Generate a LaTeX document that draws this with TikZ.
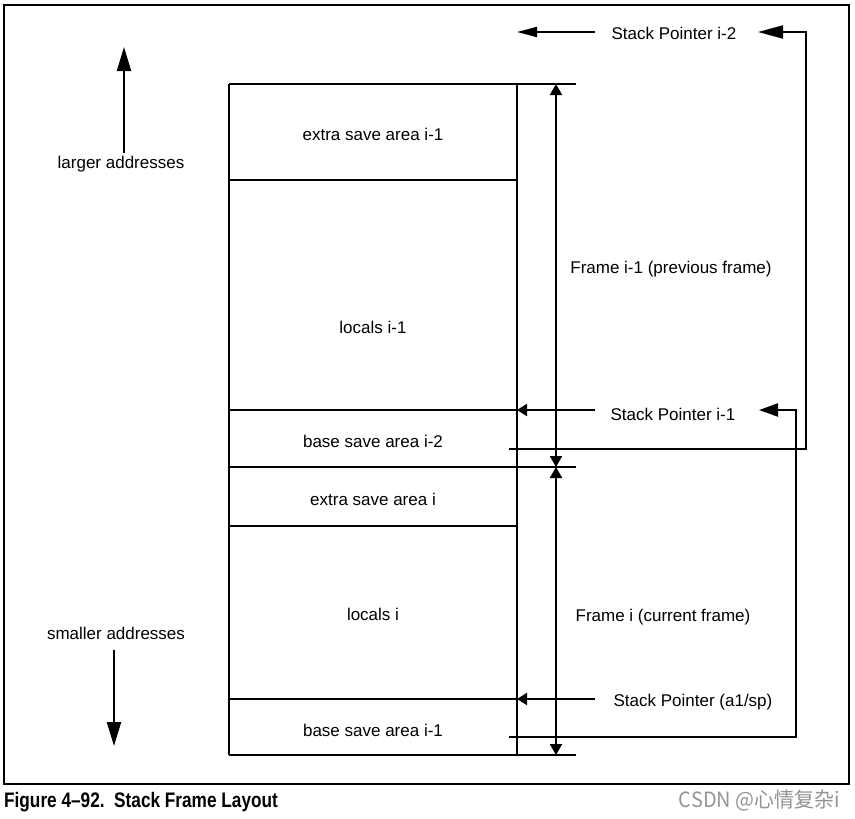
\documentclass[tikz,border=0pt]{standalone}
\usepackage{fontspec}
\setmainfont{Liberation Sans}
\newfontfamily\cjkfont{Noto Sans CJK SC}
\usetikzlibrary{arrows.meta}
\begin{document}
\begin{tikzpicture}[x=1pt,y=-1pt,
  lbl/.style={font=\fontsize{17}{20}\selectfont, inner sep=0pt, yshift=-1.5pt},
  ln/.style={line width=2pt},
  tipA/.style={-{Triangle[length=10pt,width=12pt]}},
  tipB/.style={-{Triangle[length=19pt,width=13pt]}},
  tipBig/.style={-{Triangle[length=24pt,width=14pt]}},
  dim/.style={{Triangle[length=11pt,width=12pt]}-{Triangle[length=11pt,width=12pt]}}]
\useasboundingbox (0,0) rectangle (855,819);
% outer frame
\draw[line width=2pt] (4,5) rectangle (849,784);
% column coordinates
\coordinate (cTL) at (229,84);
\coordinate (cTR) at (517,84);
\coordinate (cTX) at (576,84);
\coordinate (cBL) at (229,755);
\coordinate (cBR) at (517,755);
\coordinate (cBX) at (576,755);
\coordinate (m1L) at (229,180); \coordinate (m1R) at (517,180);
\coordinate (m2L) at (229,410); \coordinate (m2R) at (517,410);
\coordinate (m3L) at (229,467); \coordinate (m3X) at (576,467);
\coordinate (m4L) at (229,526); \coordinate (m4R) at (517,526);
\coordinate (m5L) at (229,699); \coordinate (m5R) at (517,699);
\coordinate (sp2R) at (517,32);
% column lines
\draw[ln] (cTL) -- (cTX);
\draw[ln] (cTL) -- (cBL);
\draw[ln] (cTR) -- (cBR);
\draw[ln] (cBL) -- (cBX);
\draw[ln] (m1L) -- (m1R);
\draw[ln] (m2L) -- (m2R);
\draw[ln] (m3L) -- (m3X);
\draw[ln] (m4L) -- (m4R);
\draw[ln] (m5L) -- (m5R);
% area labels
\node[lbl] (esa1) at (373,133) {extra save area i-1};
\node[lbl] (loc1) at (373,326) {locals i-1};
\node[lbl] (bsa2) at (373,440) {base save area i-2};
\node[lbl] (esa0) at (373,498) {extra save area i};
\node[lbl] (loc0) at (373,613) {locals i};
\node[lbl] (bsa1) at (373,729) {base save area i-1};
% frame dimension arrows
\coordinate (d1) at (556,84);
\coordinate (d2) at (556,467);
\coordinate (d3) at (556,755);
\draw[ln,dim] (d1) -- (d2);
\draw[ln,dim] (d2) -- (d3);
\node[lbl] (fr1) at (671,268) {Frame i-1 (previous frame)};
\node[lbl] (fr0) at (663,616) {Frame i (current frame)};
% stack pointers
\node[lbl] (sp2) at (674,32) {Stack Pointer i-2};
\node[lbl] (sp1) at (673,413) {Stack Pointer i-1};
\node[lbl] (sp0) at (693,701) {Stack Pointer (a1/sp)};
\coordinate (sp2s) at (595,32);
\coordinate (sp1s) at (595,410);
\coordinate (sp0s) at (595,699);
\draw[ln,-{Triangle[length=20pt,width=10pt]}] (sp2s) -- (sp2R);
\draw[ln,tipA] (sp1s) -- (m2R);
\draw[ln,tipA] (sp0s) -- (m5R);
% return connectors
\coordinate (r2a) at (509,449);
\coordinate (r2b) at (806,449);
\coordinate (r2c) at (806,32);
\coordinate (r2d) at (758,32);
\draw[ln,-{Triangle[length=25pt,width=13pt]}] (r2a) -- (r2b) -- (r2c) -- (r2d);
\coordinate (r1a) at (509,737);
\coordinate (r1b) at (796,737);
\coordinate (r1c) at (796,410);
\coordinate (r1d) at (759,410);
\draw[ln,tipB] (r1a) -- (r1b) -- (r1c) -- (r1d);
% address direction
\node[lbl] (lg) at (121,163) {larger addresses};
\node[lbl] (sm) at (116,632) {smaller addresses};
\coordinate (lgs) at (124,153);
\coordinate (lge) at (124,47);
\coordinate (sms) at (114,650);
\coordinate (sme) at (114,746);
\draw[ln,tipBig] (lgs) -- (lge);
\draw[ln,tipBig] (sms) -- (sme);
% caption
\node[inner sep=0pt, anchor=base west, font=\fontsize{21}{24}\selectfont\bfseries, xscale=0.82] (cap) at (4,807) {Figure 4--92.\ \ Stack Frame Layout};
\node[inner sep=0pt, anchor=base east, text=black!42, font=\fontsize{21}{24}\selectfont\cjkfont, xscale=0.95] (wm) at (840,807) {CSDN @心情复杂i};
\end{tikzpicture}
\end{document}
